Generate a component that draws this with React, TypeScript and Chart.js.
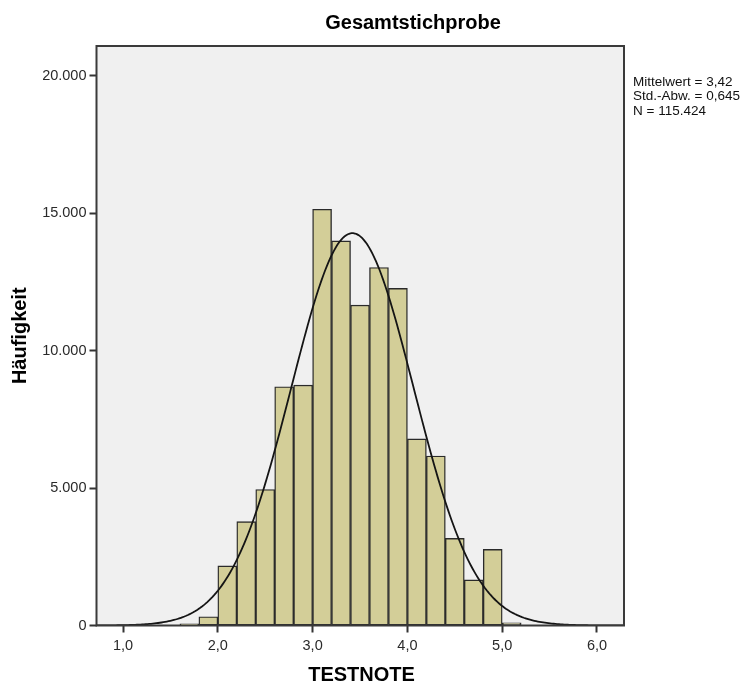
import React, { useEffect, useRef } from "react";
import { Chart, registerables } from "chart.js";

Chart.register(...registerables);

// ---- data ----
const binStarts = [1.6, 1.8, 2.0, 2.2, 2.4, 2.6, 2.8, 3.0, 3.2, 3.4, 3.6, 3.8, 4.0, 4.2, 4.4, 4.6, 4.8, 5.0];
const binCounts = [60, 320, 2170, 3780, 4950, 8690, 8750, 15150, 14000, 11660, 13030, 12270, 6790, 6170, 3170, 1660, 2770, 100];
const binWidth = 0.2;
const xTicks = [1, 2, 3, 4, 5, 6];
const yTicks = [0, 5000, 10000, 15000, 20000];
const meanValue = 3.42;
const sdValue = 0.645;
const nValue = 115424;
const titleText = "Gesamtstichprobe";
const xTitle = "TESTNOTE";
const yTitle = "Häufigkeit";
const statsLines = ["Mittelwert = 3,42", "Std.-Abw. = 0,645", "N = 115.424"];
const xMin = 0.72;
const xMax = 6.285;
const yMax = 21090;

const FONT = "'Liberation Sans', Arial, sans-serif";

function fmtThousands(v: number): string {
  return Math.round(v).toString().replace(/\B(?=(\d{3})+(?!\d))/g, ".");
}
function fmtDec(v: number): string {
  return v.toFixed(1).replace(".", ",");
}

// normal curve defined by the chart's stated mean, sd and N
function normalCurve() {
  const pts: { x: number; y: number }[] = [];
  const steps = 300;
  for (let i = 0; i <= steps; i++) {
    const x = xMin + ((xMax - xMin) * i) / steps;
    const z = (x - meanValue) / sdValue;
    const y = (nValue * binWidth) / (sdValue * Math.sqrt(2 * Math.PI)) * Math.exp(-0.5 * z * z);
    pts.push({ x, y });
  }
  return pts;
}

const decorPlugin = {
  id: "decor",
  beforeDraw(chart: any) {
    const { ctx, chartArea: a } = chart;
    ctx.save();
    ctx.fillStyle = "#f0f0f0";
    ctx.fillRect(a.left, a.top, a.right - a.left, a.bottom - a.top);
    ctx.restore();
  },
  afterDraw(chart: any) {
    const { ctx, chartArea: a } = chart;
    ctx.save();
    ctx.strokeStyle = "#3a3a3a";
    ctx.lineWidth = 2;
    ctx.strokeRect(a.left, a.top, a.right - a.left, a.bottom - a.top);

    ctx.fillStyle = "#000";
    ctx.textAlign = "center";
    ctx.textBaseline = "middle";
    ctx.font = `bold 20px ${FONT}`;
    ctx.fillText(titleText, 413, 23);

    ctx.font = `bold 20px ${FONT}`;
    ctx.fillText(xTitle, 361.5, 675);

    ctx.save();
    ctx.translate(20, (a.top + a.bottom) / 2);
    ctx.rotate(-Math.PI / 2);
    ctx.fillText(yTitle, 0, 0);
    ctx.restore();

    ctx.textAlign = "left";
    ctx.textBaseline = "alphabetic";
    ctx.font = `13.5px ${FONT}`;
    ctx.fillStyle = "#111";
    statsLines.forEach((s, i) => ctx.fillText(s, 633, 86 + i * 14.3));
    ctx.restore();
  },
};

export default function App() {
  const ref = useRef<HTMLCanvasElement | null>(null);

  useEffect(() => {
    document.body.style.margin = "0";
    const canvas = ref.current;
    if (!canvas) return;
    const barData = binStarts.map((s, i) => ({ x: s + binWidth / 2, y: binCounts[i] }));
    const chart = new Chart(canvas, {
      type: "bar",
      data: {
        datasets: [
          {
            type: "line",
            data: normalCurve(),
            borderColor: "#151515",
            borderWidth: 1.8,
            pointRadius: 0,
            tension: 0,
            order: 0,
          } as any,
          {
            type: "bar",
            data: barData,
            backgroundColor: "#d3ce98",
            borderColor: "#2a2a2a",
            borderWidth: 1.4,
            borderSkipped: false,
            barPercentage: 1,
            categoryPercentage: 1,
            grouped: false,
            order: 1,
          } as any,
        ],
      },
      options: {
        animation: false,
        responsive: false,
        maintainAspectRatio: false,
        layout: { padding: { left: 0, right: 131, top: 46, bottom: 0 } },
        plugins: { legend: { display: false }, tooltip: { enabled: false }, title: { display: false } },
        scales: {
          x: {
            type: "linear",
            min: xMin,
            max: xMax,
            offset: false,
            afterFit: (s: any) => {
              s.height = 57.5;
            },
            afterBuildTicks: (s: any) => {
              s.ticks = xTicks.map((v) => ({ value: v }));
            },
            grid: {
              display: true,
              drawOnChartArea: false,
              drawTicks: true,
              tickLength: 7,
              tickWidth: 2,
              tickColor: "#333",
              offset: false,
            },
            border: { display: false },
            ticks: {
              color: "#2a2a2a",
              font: { family: FONT, size: 14.5 },
              padding: 5,
              maxRotation: 0,
              callback: (v: any) => fmtDec(Number(v)),
            },
          },
          y: {
            type: "linear",
            min: 0,
            max: yMax,
            afterFit: (s: any) => {
              s.width = 96.5;
            },
            afterBuildTicks: (s: any) => {
              s.ticks = yTicks.map((v) => ({ value: v }));
            },
            grid: {
              display: true,
              drawOnChartArea: false,
              drawTicks: true,
              tickLength: 7,
              tickWidth: 2,
              tickColor: "#333",
            },
            border: { display: false },
            ticks: {
              color: "#2a2a2a",
              font: { family: FONT, size: 14.5 },
              padding: 3,
              callback: (v: any) => fmtThousands(Number(v)),
            },
          },
        },
      },
      plugins: [decorPlugin],
    });
    return () => chart.destroy();
  }, []);

  return (
    <div style={{ width: 755, height: 683, background: "#fff" }}>
      <canvas ref={ref} width={755} height={683} style={{ display: "block", width: 755, height: 683 }} />
    </div>
  );
}
